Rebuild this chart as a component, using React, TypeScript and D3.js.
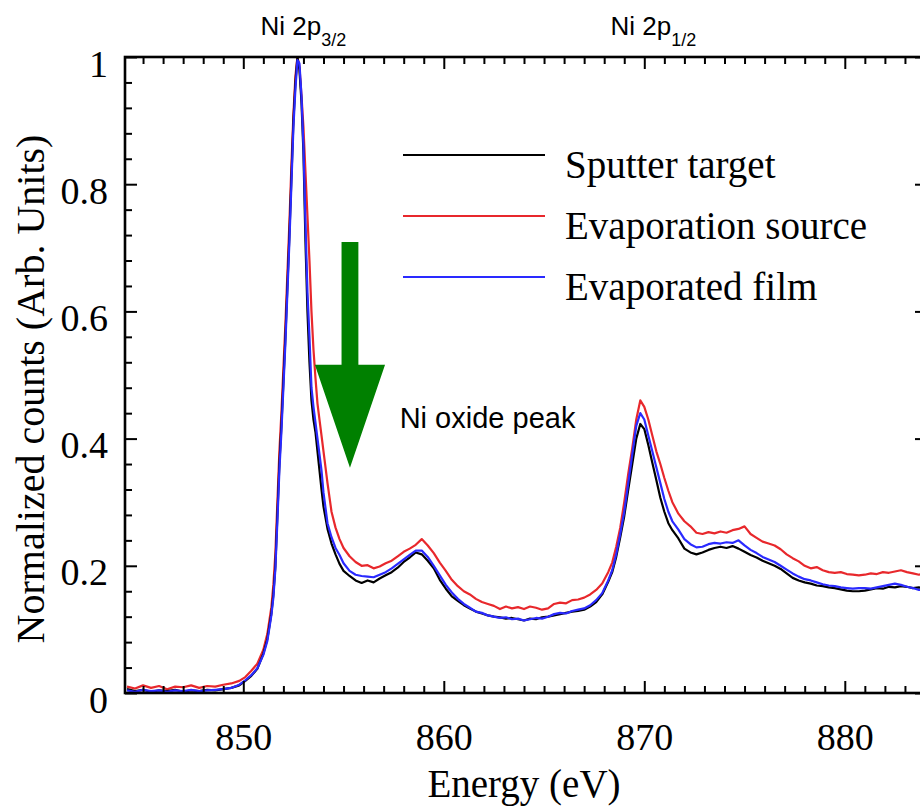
import React, { useRef, useEffect } from 'react';
import * as d3 from 'd3';

// energy grid (eV), shared by all three spectra
const energy = [
  844.2, 844.6, 845.0, 845.4, 845.8, 846.2, 846.6, 847.0, 847.4, 847.8,
  848.2, 848.6, 849.0, 849.4, 849.8, 850.1, 850.4, 850.7, 851.0, 851.2,
  851.4, 851.5, 851.6, 851.7, 851.8, 851.9, 852.0, 852.1, 852.2, 852.3,
  852.4, 852.5, 852.6, 852.7, 852.8, 852.9, 853.0, 853.1, 853.2, 853.3,
  853.4, 853.5, 853.6, 853.7, 853.8, 853.9, 854.0, 854.2, 854.4, 854.6,
  854.8, 855.0, 855.3, 855.6, 855.9, 856.2, 856.5, 856.8, 857.1, 857.4,
  857.7, 858.0, 858.3, 858.6, 858.9, 859.2, 859.5, 859.8, 860.1, 860.4,
  860.7, 861.0, 861.3, 861.6, 861.9, 862.2, 862.5, 862.8, 863.1, 863.4,
  863.7, 864.0, 864.3, 864.6, 864.9, 865.2, 865.5, 865.8, 866.1, 866.4,
  866.7, 867.0, 867.3, 867.6, 867.9, 868.2, 868.4, 868.6, 868.8, 869.0,
  869.2, 869.4, 869.6, 869.8, 870.0, 870.2, 870.4, 870.6, 870.8, 871.0,
  871.2, 871.4, 871.7, 872.0, 872.3, 872.6, 872.9, 873.2, 873.5, 873.8,
  874.1, 874.4, 874.7, 875.0, 875.3, 875.6, 875.9, 876.2, 876.5, 876.8,
  877.1, 877.4, 877.7, 878.0, 878.3, 878.6, 878.9, 879.2, 879.5, 879.8,
  880.1, 880.4, 880.7, 881.0, 881.3, 881.6, 881.9, 882.2, 882.5, 882.8,
  883.1, 883.4, 883.7, 884.0,
];

const sputterTarget = [
  0.006, 0.003, 0.005, 0.002, 0.004, 0.003, 0.005, 0.002, 0.004, 0.003,
  0.005, 0.004, 0.006, 0.008, 0.012, 0.019, 0.027, 0.038, 0.062, 0.085,
  0.125, 0.155, 0.2, 0.28, 0.36, 0.42, 0.49, 0.56, 0.64, 0.72,
  0.81, 0.9, 0.96, 1.0, 0.98, 0.93, 0.85, 0.71, 0.6, 0.52,
  0.46, 0.43, 0.41, 0.38, 0.35, 0.32, 0.293, 0.258, 0.235, 0.218,
  0.203, 0.192, 0.184, 0.177, 0.173, 0.177, 0.174, 0.18, 0.185, 0.19,
  0.197, 0.206, 0.213, 0.221, 0.218, 0.208, 0.196, 0.178, 0.164, 0.152,
  0.145, 0.138, 0.133, 0.128, 0.125, 0.122, 0.12, 0.119, 0.117, 0.118,
  0.116, 0.114, 0.117, 0.116, 0.119, 0.12, 0.122, 0.124, 0.126, 0.128,
  0.129, 0.131, 0.136, 0.143, 0.155, 0.175, 0.19, 0.214, 0.245, 0.278,
  0.32, 0.36, 0.4, 0.423, 0.415, 0.39, 0.362, 0.335, 0.307, 0.285,
  0.267, 0.256, 0.243, 0.227, 0.221, 0.218, 0.221, 0.225, 0.228, 0.23,
  0.228, 0.231, 0.227, 0.222, 0.217, 0.213, 0.208, 0.204, 0.2, 0.195,
  0.188, 0.181, 0.177, 0.174, 0.172, 0.169, 0.168, 0.166, 0.165, 0.163,
  0.161, 0.16, 0.16, 0.161, 0.163, 0.165, 0.164, 0.167, 0.166, 0.168,
  0.167, 0.165, 0.166, 0.164,
];

const evaporationSource = [
  0.010, 0.007, 0.012, 0.008, 0.011, 0.006, 0.010, 0.009, 0.012, 0.008,
  0.011, 0.010, 0.013, 0.015, 0.019, 0.025, 0.035, 0.046, 0.068, 0.093,
  0.135, 0.17, 0.22, 0.3, 0.38, 0.44, 0.51, 0.58, 0.66, 0.74,
  0.83, 0.91, 0.97, 1.0, 0.985, 0.94, 0.89, 0.82, 0.75, 0.68,
  0.6, 0.54, 0.495, 0.455, 0.43, 0.405, 0.38, 0.33, 0.285, 0.26,
  0.242, 0.228, 0.215, 0.206, 0.2, 0.201, 0.196, 0.199, 0.204, 0.208,
  0.215, 0.222, 0.227, 0.233, 0.242, 0.232, 0.22, 0.205, 0.192, 0.178,
  0.168, 0.16, 0.155, 0.148, 0.143, 0.14, 0.137, 0.132, 0.136, 0.133,
  0.135, 0.132, 0.136, 0.134, 0.131, 0.133, 0.14, 0.142, 0.141, 0.146,
  0.147, 0.15, 0.155, 0.162, 0.172, 0.19, 0.205, 0.23, 0.26, 0.3,
  0.345, 0.385, 0.43, 0.46, 0.45, 0.43, 0.405, 0.38, 0.36, 0.338,
  0.318, 0.3, 0.282, 0.27, 0.262, 0.252, 0.25, 0.253, 0.251, 0.254,
  0.252, 0.256, 0.258, 0.262, 0.25, 0.244, 0.238, 0.235, 0.232, 0.226,
  0.218, 0.212, 0.207, 0.2, 0.196, 0.198, 0.193, 0.19, 0.189, 0.19,
  0.187, 0.186, 0.185, 0.186, 0.188, 0.187, 0.19, 0.189, 0.191, 0.193,
  0.19, 0.188, 0.186, 0.189,
];

const evaporatedFilm = [
  0.004, 0.002, 0.005, 0.003, 0.004, 0.002, 0.004, 0.003, 0.005, 0.003,
  0.004, 0.005, 0.006, 0.008, 0.013, 0.02, 0.028, 0.039, 0.06, 0.082,
  0.122, 0.15, 0.195, 0.27, 0.35, 0.41, 0.48, 0.55, 0.63, 0.71,
  0.8, 0.89, 0.95, 0.995, 0.99, 0.94, 0.86, 0.74, 0.63, 0.56,
  0.48, 0.45, 0.425, 0.4, 0.375, 0.35, 0.315, 0.267, 0.245, 0.228,
  0.217, 0.204, 0.192, 0.186, 0.184, 0.183, 0.182, 0.186, 0.19, 0.196,
  0.203, 0.21, 0.217, 0.224, 0.224, 0.214, 0.2, 0.185, 0.17, 0.158,
  0.148, 0.14, 0.134, 0.128, 0.126, 0.122, 0.12, 0.118, 0.119, 0.116,
  0.117, 0.114, 0.116, 0.118, 0.117, 0.12, 0.124, 0.126, 0.125, 0.129,
  0.131, 0.133, 0.138, 0.146, 0.157, 0.177, 0.193, 0.218, 0.25, 0.285,
  0.33, 0.375, 0.42, 0.44, 0.43, 0.405, 0.38, 0.355, 0.33, 0.305,
  0.285, 0.27, 0.257, 0.242, 0.234, 0.229, 0.23, 0.234, 0.236, 0.235,
  0.237, 0.236, 0.24, 0.232, 0.225, 0.22, 0.214, 0.21, 0.206, 0.2,
  0.194, 0.188, 0.183, 0.179, 0.177, 0.174, 0.171, 0.169, 0.168, 0.166,
  0.165, 0.164, 0.165, 0.165, 0.164, 0.166, 0.168, 0.17, 0.172, 0.17,
  0.167, 0.165, 0.162, 0.163,
];

const xMajorTicks = [850, 860, 870, 880];
const yMajorTicks = [0, 0.2, 0.4, 0.6, 0.8, 1];

const legendItems = [
  { name: 'Sputter target', values: sputterTarget, color: '#000000' },
  { name: 'Evaporation source', values: evaporationSource, color: '#e8282c' },
  { name: 'Evaporated film', values: evaporatedFilm, color: '#2a2aff' },
];
// drawing order: red underneath, then black, blue on top
const drawOrder = [1, 0, 2];

// peak labels: [main text, subscript, energy at which the label is centred]
const peakLabels: [string, string, number][] = [
  ['Ni 2p', '3/2', 853.0],
  ['Ni 2p', '1/2', 870.45],
];

// green arrow marking the oxide peak (energy, top of shaft, base of head, tip)
const arrowEnergy = 855.32;
const arrowTop = 0.709;
const arrowHeadBase = 0.516;
const arrowTip = 0.354;

const SERIF = '"Liberation Serif", "Times New Roman", Times, serif';
const SANS = '"Liberation Sans", Arial, Helvetica, sans-serif';

export default function App() {
  const ref = useRef<SVGSVGElement>(null);

  useEffect(() => {
    const svg = d3.select(ref.current);
    svg.selectAll('*').remove();

    const left = 125, right = 927, top = 57, bottom = 693;
    const x = d3.scaleLinear([844.1, 884.1], [left, right]);
    const y = d3.scaleLinear([0, 1], [bottom, top]);

    const xMinor = d3.range(845, 885).filter(d => !xMajorTicks.includes(d));
    const yMinor = d3.range(0, 1.001, 0.04)
      .map(d => +d.toFixed(2))
      .filter(d => !yMajorTicks.includes(d));

    // clip for the spectra
    svg.append('defs').append('clipPath').attr('id', 'plot-clip')
      .append('rect')
      .attr('x', left).attr('y', top - 3)
      .attr('width', right - left).attr('height', bottom - top + 3);

    // spectra
    const line = d3.line<number>()
      .x((_, i) => x(energy[i]))
      .y(d => y(d));

    const g = svg.append('g').attr('clip-path', 'url(#plot-clip)');
    drawOrder.forEach(k => {
      g.append('path')
        .attr('d', line(legendItems[k].values))
        .attr('fill', 'none')
        .attr('stroke', legendItems[k].color)
        .attr('stroke-width', 2.2)
        .attr('stroke-linejoin', 'round');
    });

    // axes, ticks pointing inwards
    const styleAxis = (sel: any) => {
      sel.select('.domain').remove();
      sel.selectAll('.tick line').attr('stroke', '#000').attr('stroke-width', 2);
      sel.selectAll('.tick text')
        .attr('font-family', SERIF).attr('font-size', 38).attr('fill', '#000');
    };

    svg.append('g').attr('transform', `translate(0,${bottom})`)
      .call(d3.axisBottom(x).tickValues(xMajorTicks).tickSizeInner(-12).tickSizeOuter(0)
        .tickPadding(30).tickFormat(d3.format('d')))
      .call(styleAxis);
    svg.append('g').attr('transform', `translate(0,${bottom})`)
      .call(d3.axisBottom(x).tickValues(xMinor).tickSizeInner(-7).tickSizeOuter(0).tickFormat(() => ''))
      .call(styleAxis);
    svg.append('g').attr('transform', `translate(0,${top})`)
      .call(d3.axisTop(x).tickValues(xMajorTicks).tickSizeInner(-12).tickSizeOuter(0).tickFormat(() => ''))
      .call(styleAxis);
    svg.append('g').attr('transform', `translate(0,${top})`)
      .call(d3.axisTop(x).tickValues(xMinor).tickSizeInner(-7).tickSizeOuter(0).tickFormat(() => ''))
      .call(styleAxis);

    svg.append('g').attr('transform', `translate(${left},0)`)
      .call(d3.axisLeft(y).tickValues(yMajorTicks).tickSizeInner(-12).tickSizeOuter(0)
        .tickPadding(17).tickFormat(d => String(d)))
      .call(styleAxis)
      .call((sel: any) => sel.selectAll('.tick text').attr('dy', '0.5em'));
    svg.append('g').attr('transform', `translate(${left},0)`)
      .call(d3.axisLeft(y).tickValues(yMinor).tickSizeInner(-7).tickSizeOuter(0).tickFormat(() => ''))
      .call(styleAxis);
    svg.append('g').attr('transform', `translate(${right},0)`)
      .call(d3.axisRight(y).tickValues(yMajorTicks).tickSizeInner(-12).tickSizeOuter(0).tickFormat(() => ''))
      .call(styleAxis);
    svg.append('g').attr('transform', `translate(${right},0)`)
      .call(d3.axisRight(y).tickValues(yMinor).tickSizeInner(-7).tickSizeOuter(0).tickFormat(() => ''))
      .call(styleAxis);

    // frame
    svg.append('rect')
      .attr('x', left).attr('y', top)
      .attr('width', right - left).attr('height', bottom - top)
      .attr('fill', 'none').attr('stroke', '#000').attr('stroke-width', 2.6);

    // axis titles
    svg.append('text')
      .attr('x', (left + right) / 2 - 2).attr('y', 797)
      .attr('text-anchor', 'middle')
      .attr('font-family', SERIF).attr('font-size', 39)
      .text('Energy (eV)');
    svg.append('text')
      .attr('transform', `translate(44,${(top + bottom) / 2 + 14}) rotate(-90)`)
      .attr('text-anchor', 'middle')
      .attr('font-family', SERIF).attr('font-size', 40)
      .text('Normalized counts (Arb. Units)');

    // peak labels above the frame
    peakLabels.forEach(([main, sub, e]) => {
      const t = svg.append('text')
        .attr('x', x(e)).attr('y', 35)
        .attr('text-anchor', 'middle')
        .attr('font-family', SANS).attr('font-size', 26);
      t.append('tspan').text(main);
      t.append('tspan').attr('font-size', 18).attr('dy', 11).text(sub);
    });

    // green arrow
    const hw = 0.42, headW = 1.75;
    const arrowPts: [number, number][] = [
      [x(arrowEnergy - hw), y(arrowTop)],
      [x(arrowEnergy + hw), y(arrowTop)],
      [x(arrowEnergy + hw), y(arrowHeadBase)],
      [x(arrowEnergy + headW), y(arrowHeadBase)],
      [x(arrowEnergy), y(arrowTip)],
      [x(arrowEnergy - headW), y(arrowHeadBase)],
      [x(arrowEnergy - hw), y(arrowHeadBase)],
    ];
    svg.append('polygon')
      .attr('points', arrowPts.map(p => p.join(',')).join(' '))
      .attr('fill', '#008000');

    svg.append('text')
      .attr('x', x(857.8)).attr('y', y(0.417))
      .attr('font-family', SANS).attr('font-size', 29)
      .text('Ni oxide peak');

    // legend
    const lg = svg.append('g');
    legendItems.forEach((s, i) => {
      const ly = 155 + i * 61;
      lg.append('line')
        .attr('x1', 403).attr('x2', 545).attr('y1', ly).attr('y2', ly)
        .attr('stroke', s.color).attr('stroke-width', 2);
      lg.append('text')
        .attr('x', 565).attr('y', ly + 23)
        .attr('font-family', SERIF).attr('font-size', 39)
        .text(s.name);
    });
  }, []);

  return (
    <svg ref={ref} width={920} height={807}
      style={{ position: 'absolute', left: 0, top: 0, background: '#fff' }} />
  );
}
